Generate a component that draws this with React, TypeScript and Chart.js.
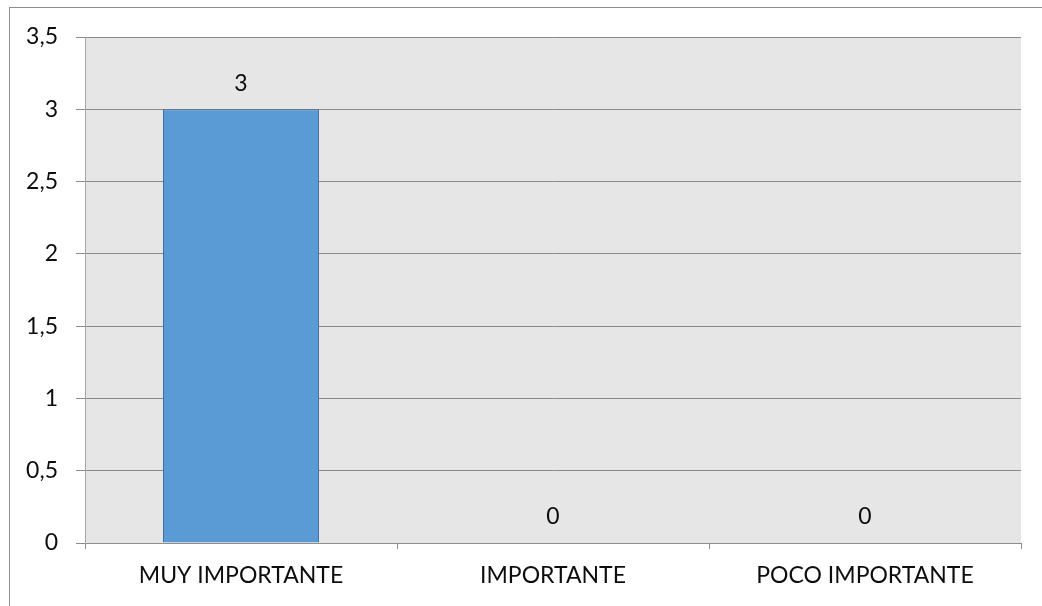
import React, { useEffect, useRef } from "react";
import { Chart, registerables } from "chart.js";

Chart.register(...registerables);

const categories = ["MUY IMPORTANTE", "IMPORTANTE", "POCO IMPORTANTE"];
const values = [3, 0, 0];
const yTicks = { min: 0, max: 3.5, step: 0.5 };

const FONT = "Lato, 'Open Sans', sans-serif";
const TEXT_SIZE = 23;
const TEXT_COLOR = "#0d0d0d";

// Grey frame around the whole chart and a grey fill behind the plot area
const framePlugin = {
  id: "frame",
  beforeDraw(chart: any) {
    const { ctx, chartArea } = chart;
    ctx.save();
    ctx.fillStyle = "#ffffff";
    ctx.fillRect(0, 0, chart.width, chart.height);
    ctx.strokeStyle = "#8e8e8e";
    ctx.lineWidth = 1;
    ctx.strokeRect(9.5, 7.5, chart.width + 20, chart.height + 20);
    ctx.fillStyle = "#e6e6e6";
    ctx.fillRect(chartArea.left, chartArea.top, chartArea.right - chartArea.left, chartArea.bottom - chartArea.top);
    ctx.restore();
  },
};

// Value labels above each bar
const valueLabelPlugin = {
  id: "valueLabels",
  afterDatasetsDraw(chart: any) {
    const { ctx } = chart;
    const meta = chart.getDatasetMeta(0);
    ctx.save();
    ctx.font = `${TEXT_SIZE}px ${FONT}`;
    ctx.fillStyle = TEXT_COLOR;
    ctx.textAlign = "center";
    ctx.textBaseline = "middle";
    meta.data.forEach((bar: any, i: number) => {
      const v = chart.data.datasets[0].data[i];
      ctx.fillText(String(v), bar.x, bar.y - 26);
    });
    ctx.restore();
  },
};

export default function App() {
  const canvasRef = useRef<HTMLCanvasElement>(null);

  useEffect(() => {
    document.body.style.margin = "0";
    const chart = new Chart(canvasRef.current!, {
      type: "bar",
      data: {
        labels: categories,
        datasets: [
          {
            data: values,
            backgroundColor: "#5b9bd5",
            borderColor: "#41719c",
            borderWidth: 1,
            barPercentage: 0.5,
            categoryPercentage: 1,
          },
        ],
      },
      options: {
        animation: false,
        responsive: false,
        devicePixelRatio: 1,
        layout: { padding: { left: 0, right: 21, top: 37, bottom: 0 } },
        plugins: { legend: { display: false }, tooltip: { enabled: false } },
        scales: {
          x: {
            afterFit(scale: any) {
              scale.height = 63;
            },
            grid: {
              drawOnChartArea: false,
              drawTicks: true,
              tickLength: 6,
              color: "#8e8e8e",
              offset: true,
            },
            border: { color: "#8e8e8e" },
            ticks: {
              font: { family: FONT, size: TEXT_SIZE },
              color: TEXT_COLOR,
              padding: 13,
            },
          },
          y: {
            min: yTicks.min,
            max: yTicks.max,
            afterFit(scale: any) {
              scale.width = 85;
            },
            grid: {
              color: "#8a8a8a",
              tickLength: 9,
            },
            border: { color: "#a6a6a6" },
            ticks: {
              stepSize: yTicks.step,
              font: { family: FONT, size: TEXT_SIZE },
              color: TEXT_COLOR,
              padding: 18,
              callback: (v: any) => String(v).replace(".", ","),
            },
          },
        },
      },
      plugins: [framePlugin, valueLabelPlugin],
    });
    return () => chart.destroy();
  }, []);

  return (
    <div style={{ position: "fixed", left: 0, top: 0, width: 1042, height: 606 }}>
      <canvas ref={canvasRef} width={1042} height={606} />
    </div>
  );
}
